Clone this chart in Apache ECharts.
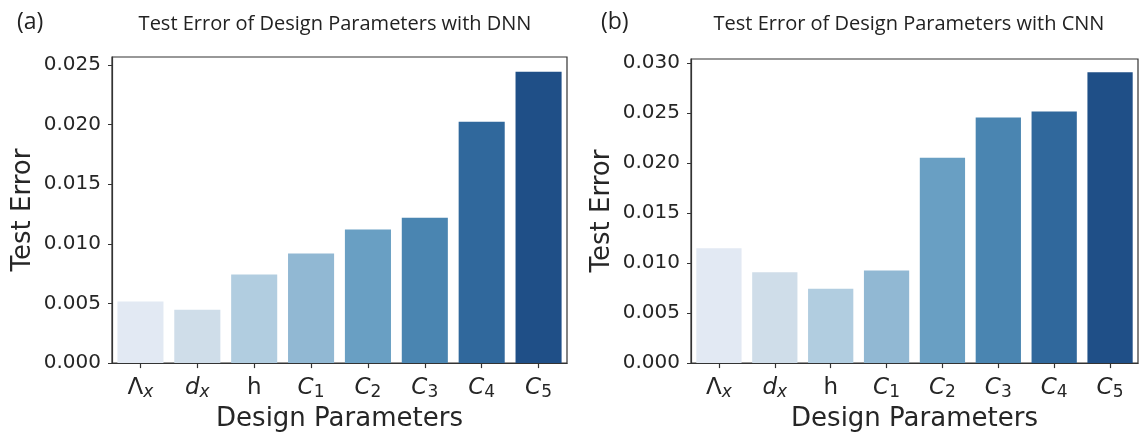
<!DOCTYPE html>
<html><head><meta charset="utf-8">
<script src="https://cdn.jsdelivr.net/npm/echarts@6/dist/echarts.min.js"></script>
<style>html,body{margin:0;padding:0;background:#fff}#c{width:1144px;height:437px}</style>
</head><body><div id="c"></div>
<script>
// ---- data ----
var categories = ['Λx', 'dx', 'h', 'C1', 'C2', 'C3', 'C4', 'C5'];
var catMain = ['Λ', 'd', 'h', 'C', 'C', 'C', 'C', 'C'];
var catSub = ['x', 'x', '', '1', '2', '3', '4', '5'];
var catItalic = [false, true, false, true, true, true, true, true];
var dnnError = [0.00517, 0.00448, 0.00742, 0.00919, 0.01121, 0.01218, 0.02025, 0.02444];
var cnnError = [0.01147, 0.00909, 0.00744, 0.00925, 0.02052, 0.02455, 0.02515, 0.02908];
var barColors = ['#e2e9f3', '#cfdde9', '#b1cde0', '#91b8d3', '#699fc3', '#4a85b1', '#30689c', '#1f4f87'];
var titles = ['Test Error of Design Parameters with DNN', 'Test Error of Design Parameters with CNN'];
var panelTags = ['(a)', '(b)'];
var yMax = [0.02567, 0.0304];

var chart = echarts.init(document.getElementById('c'));
var txt = '#262626';

function xAxisCfg(gi) {
  return {
    type: 'category', gridIndex: gi, data: categories,
    name: 'Design Parameters', nameLocation: 'middle', nameGap: 39,
    nameTextStyle: {fontFamily: 'DejaVu Sans', fontSize: 26, color: txt},
    axisLine: {lineStyle: {color: '#333', width: 1.2}},
    axisTick: {show: true, alignWithLabel: true, length: 5, lineStyle: {color: '#333', width: 1.2}},
    axisLabel: {
      interval: 0,
      margin: 12,
      formatter: function (v, i) {
        var m = catItalic[i] ? '{i|' + catMain[i] + '}' : '{u|' + catMain[i] + '}';
        var s = catSub[i] ? (/[0-9]/.test(catSub[i]) ? '{s|' + catSub[i] + '}' : '{si|' + catSub[i] + '}') : '';
        return m + s;
      },
      rich: {
        i: {fontFamily: 'DejaVu Sans', fontStyle: 'italic', fontSize: 23, color: txt, lineHeight: 26},
        u: {fontFamily: 'DejaVu Sans', fontSize: 23, color: txt, lineHeight: 26},
        s: {fontFamily: 'DejaVu Sans', fontSize: 17, color: txt, lineHeight: 14, verticalAlign: 'bottom'},
        si: {fontFamily: 'DejaVu Sans', fontStyle: 'italic', fontSize: 17, color: txt, lineHeight: 14, verticalAlign: 'bottom'}
      }
    }
  };
}
function yAxisCfg(gi) {
  return {
    type: 'value', gridIndex: gi, min: 0, max: yMax[gi], interval: 0.005,
    name: 'Test Error', nameLocation: 'middle', nameGap: 76,
    nameTextStyle: {fontFamily: 'DejaVu Sans', fontSize: 26, color: txt},
    splitLine: {show: false},
    axisLine: {show: true, lineStyle: {color: '#333', width: 1.2}},
    axisTick: {show: true, length: 4, lineStyle: {color: '#333'}},
    axisLabel: {showMaxLabel: false, margin: 11, fontFamily: 'DejaVu Sans', fontSize: 20, color: txt,
      formatter: function (v) { return v.toFixed(3); }}
  };
}
function seriesCfg(gi, data) {
  return {
    type: 'bar', xAxisIndex: gi, yAxisIndex: gi, barCategoryGap: '19%',
    data: data.map(function (v, i) { return {value: v, itemStyle: {color: barColors[i]}}; }),
    silent: true
  };
}

chart.setOption({
  animation: false,
  title: [
    {text: panelTags[0], left: 12, top: 6, textStyle: {fontFamily: 'Open Sans', fontSize: 23, fontWeight: 'normal', color: '#222'}},
    {text: titles[0], left: 330, textAlign: 'center', top: 9, textStyle: {fontFamily: 'Open Sans', fontSize: 20, fontWeight: 'normal', color: '#222'}},
    {text: panelTags[1], left: 596, top: 6, textStyle: {fontFamily: 'Open Sans', fontSize: 23, fontWeight: 'normal', color: '#222'}},
    {text: titles[1], left: 904, textAlign: 'center', top: 9, textStyle: {fontFamily: 'Open Sans', fontSize: 20, fontWeight: 'normal', color: '#222'}}
  ],
  grid: [
    {left: 112, right: 577, top: 57, bottom: 71, show: true, borderColor: '#333', borderWidth: 1.2},
    {left: 691, right: 6, top: 59, bottom: 71, show: true, borderColor: '#333', borderWidth: 1.2}
  ],
  xAxis: [xAxisCfg(0), xAxisCfg(1)],
  yAxis: [yAxisCfg(0), yAxisCfg(1)],
  series: [seriesCfg(0, dnnError), seriesCfg(1, cnnError)]
});
</script></body></html>
